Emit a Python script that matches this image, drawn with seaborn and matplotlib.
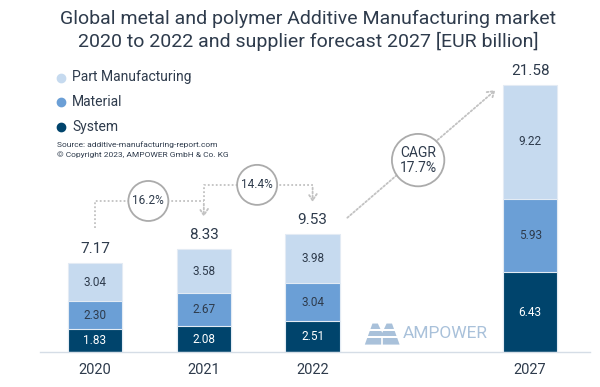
import pandas as pd
import seaborn as sns
import matplotlib.pyplot as plt
from matplotlib.patches import Polygon, Rectangle

# Data (EUR billion)
years = ["2020", "2021", "2022", "2027"]
system = [1.83, 2.08, 2.51, 6.43]
material = [2.30, 2.67, 3.04, 5.93]
part_mfg = [3.04, 3.58, 3.98, 9.22]
totals = [7.17, 8.33, 9.53, 21.58]
growth = ["16.2%", "14.4%"]
cagr = "CAGR\n17.7%"

order = ["2020", "2021", "2022", " ", "2027"]
pos = [order.index(y) for y in years]

df = pd.DataFrame({"year": years, "system": system, "material": material, "part": part_mfg,
                   "total": totals})
df["mid"] = df["system"] + df["material"]
df["top"] = df["mid"] + df["part"]

c_light = "#c6daef"
c_mid = "#6b9fd6"
c_dark = "#00446c"
txt = "#2e3b4c"
grey = "#ababab"

sns.set_style("white")
plt.rcParams["font.family"] = ["Roboto", "DejaVu Sans"]

fig = plt.figure(figsize=(6, 3.87), dpi=100)
ax = fig.add_axes([0.0667, 0.0904, 0.9166, 0.755])

bar_kw = dict(order=order, width=0.5, errorbar=None, edgecolor="#e3ebf4", linewidth=0.8,
              saturation=1, ax=ax)
sns.barplot(data=df, x="year", y="top", color=c_light, **bar_kw)
sns.barplot(data=df, x="year", y="mid", color=c_mid, **bar_kw)
sns.barplot(data=df, x="year", y="system", color=c_dark, **bar_kw)

ax.set_xlim(-0.506, 4.55)
ax.set_ylim(0, 23.6)
ax.set_xlabel("")
ax.set_ylabel("")
ax.set_yticks([])
ax.tick_params(axis="x", length=0, labelsize=10.5, labelcolor=txt, pad=8)
for s in ["top", "left", "right"]:
    ax.spines[s].set_visible(False)
ax.spines["bottom"].set_color("#d5dde6")
ax.spines["bottom"].set_linewidth(1)

# segment and total labels
for i, r in zip(pos, df.itertuples()):
    ax.text(i, r.system / 2, f"{r.system:.2f}", ha="center", va="center", color="white", fontsize=8.5)
    ax.text(i, r.system + r.material / 2, f"{r.material:.2f}", ha="center", va="center",
            color=txt, fontsize=8.5)
    ax.text(i, r.mid + r.part / 2, f"{r.part:.2f}", ha="center", va="center", color=txt, fontsize=8.5)
    ax.text(i, r.top + 0.55, f"{r.total:.2f}", ha="center", va="bottom", color=txt, fontsize=11)

# growth connectors
lc = "#c2c2c2"
dot = dict(color=lc, lw=1.3, ls=(0, (1, 1.2)))
arr = dict(arrowstyle="->,head_length=0.45,head_width=0.3", color=lc, lw=1.3, ls=(0, (1, 1.2)))
ax.plot([0, 0, 1], [10.0, 12.2, 12.2], **dot)
ax.annotate("", xy=(1, 10.7), xytext=(1, 12.2), arrowprops=arr)
ax.plot([1, 1, 2], [12.2, 13.5, 13.5], **dot)
ax.annotate("", xy=(2, 11.9), xytext=(2, 13.5), arrowprops=arr)
ax.annotate("", xy=(3.7, 21.3), xytext=(2.3, 10.7), arrowprops=arr)

circ = dict(boxstyle="circle,pad=0.35", fc="white", ec=grey, lw=1.3)
ax.text(0.49, 12.2, growth[0], ha="center", va="center", fontsize=8.5, color=txt, bbox=circ)
ax.text(1.49, 13.5, growth[1], ha="center", va="center", fontsize=8.5, color=txt, bbox=circ)
ax.text(2.97, 15.5, cagr, ha="center", va="center", fontsize=10, color=txt,
        bbox=dict(boxstyle="circle,pad=0.55", fc="white", ec=grey, lw=1.3), linespacing=1.1)

# AMPOWER mark
logo = "#a9c1da"
ax.text(2.83, 1.5, "AMPOWER", ha="left", va="center", fontsize=12.5, color=logo)
ax.add_patch(Polygon([[2.48, 0.6], [2.80, 0.6], [2.73, 2.3], [2.68, 2.3], [2.64, 1.55],
                      [2.60, 2.3], [2.55, 2.3]], closed=True, fc=logo, ec="none"))
for yb in [1.12, 1.72]:
    ax.add_patch(Rectangle((2.46, yb), 0.36, 0.16, fc="white", ec="none"))
ax.plot([2.64, 2.64], [0.6, 1.12], color="white", lw=1.2)

# title
fig.text(308 / 600, 1 - 30.5 / 387, "Global metal and polymer Additive Manufacturing market\n"
         "2020 to 2022 and supplier forecast 2027 [EUR billion]",
         ha="center", va="center", fontsize=14, color=txt, linespacing=1.2)

# legend
leg = [("Part Manufacturing", c_light), ("Material", c_mid), ("System", c_dark)]
for k, (lab, col) in enumerate(leg):
    yy = 1 - (77.5 + k * 24.7) / 387
    fig.add_artist(plt.Line2D([61 / 600], [yy], marker="o", ms=6, color=col, ls="none",
                              transform=fig.transFigure))
    fig.text(72 / 600, yy, lab, ha="left", va="center", fontsize=10, color=txt)

fig.text(57 / 600, 1 - 145 / 387, "Source: additive-manufacturing-report.com", fontsize=6,
         color=txt, va="center")
fig.text(57 / 600, 1 - 155 / 387, "\u00a9 Copyright 2023, AMPOWER GmbH & Co. KG", fontsize=6,
         color=txt, va="center")

fig.savefig("out.png", dpi=100)
